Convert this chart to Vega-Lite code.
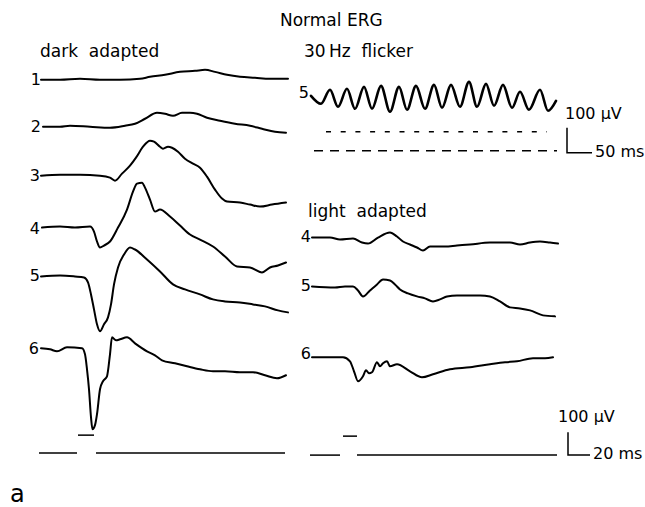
{
  "$schema": "https://vega.github.io/schema/vega-lite/v6.json",
  "width": 645,
  "height": 507,
  "padding": 0,
  "autosize": {"type": "fit", "contains": "padding"},
  "background": "white",
  "config": {"view": {"stroke": null}},
  "datasets": {
    "traces": [
      {"trace":"D1","x":41,"y":80},{"trace":"D1","x":60,"y":80},{"trace":"D1","x":80,"y":79},{"trace":"D1","x":100,"y":80},{"trace":"D1","x":120,"y":80},{"trace":"D1","x":140,"y":79},{"trace":"D1","x":150,"y":77},{"trace":"D1","x":165,"y":75},{"trace":"D1","x":180,"y":72},{"trace":"D1","x":195,"y":71},{"trace":"D1","x":205,"y":70},{"trace":"D1","x":215,"y":72},{"trace":"D1","x":227,"y":75},{"trace":"D1","x":240,"y":77},{"trace":"D1","x":255,"y":78},{"trace":"D1","x":270,"y":79},{"trace":"D1","x":288,"y":79},

      {"trace":"D2","x":43,"y":127},{"trace":"D2","x":60,"y":127},{"trace":"D2","x":70,"y":126},{"trace":"D2","x":90,"y":127},{"trace":"D2","x":110,"y":128},{"trace":"D2","x":125,"y":126},{"trace":"D2","x":135,"y":124},{"trace":"D2","x":145,"y":119},{"trace":"D2","x":157,"y":113},{"trace":"D2","x":165,"y":114},{"trace":"D2","x":173,"y":116},{"trace":"D2","x":182,"y":113},{"trace":"D2","x":190,"y":113},{"trace":"D2","x":197,"y":114},{"trace":"D2","x":207,"y":118},{"trace":"D2","x":220,"y":121},{"trace":"D2","x":235,"y":124},{"trace":"D2","x":250,"y":126},{"trace":"D2","x":262,"y":129},{"trace":"D2","x":275,"y":132},{"trace":"D2","x":286,"y":133},

      {"trace":"D3","x":41,"y":176},{"trace":"D3","x":60,"y":175},{"trace":"D3","x":80,"y":175},{"trace":"D3","x":100,"y":176},{"trace":"D3","x":110,"y":178},{"trace":"D3","x":115,"y":181},{"trace":"D3","x":122,"y":174},{"trace":"D3","x":130,"y":166},{"trace":"D3","x":136,"y":158},{"trace":"D3","x":143,"y":147},{"trace":"D3","x":150,"y":141},{"trace":"D3","x":154,"y":142},{"trace":"D3","x":160,"y":147},{"trace":"D3","x":163,"y":149},{"trace":"D3","x":168,"y":147},{"trace":"D3","x":172,"y":148},{"trace":"D3","x":178,"y":152},{"trace":"D3","x":185,"y":159},{"trace":"D3","x":193,"y":164},{"trace":"D3","x":200,"y":168},{"trace":"D3","x":207,"y":177},{"trace":"D3","x":215,"y":190},{"trace":"D3","x":222,"y":199},{"trace":"D3","x":227,"y":202},{"trace":"D3","x":240,"y":203},{"trace":"D3","x":250,"y":205},{"trace":"D3","x":260,"y":207},{"trace":"D3","x":272,"y":205},{"trace":"D3","x":286,"y":203},

      {"trace":"D4","x":42,"y":228},{"trace":"D4","x":60,"y":227},{"trace":"D4","x":75,"y":228},{"trace":"D4","x":90,"y":227},{"trace":"D4","x":94,"y":232},{"trace":"D4","x":97,"y":242},{"trace":"D4","x":100,"y":248},{"trace":"D4","x":104,"y":246},{"trace":"D4","x":110,"y":242},{"trace":"D4","x":118,"y":228},{"trace":"D4","x":127,"y":210},{"trace":"D4","x":133,"y":192},{"trace":"D4","x":137,"y":184},{"trace":"D4","x":142,"y":183},{"trace":"D4","x":145,"y":188},{"trace":"D4","x":150,"y":200},{"trace":"D4","x":155,"y":212},{"trace":"D4","x":160,"y":210},{"trace":"D4","x":170,"y":217},{"trace":"D4","x":180,"y":226},{"trace":"D4","x":190,"y":235},{"trace":"D4","x":200,"y":240},{"trace":"D4","x":213,"y":247},{"trace":"D4","x":225,"y":257},{"trace":"D4","x":237,"y":267},{"trace":"D4","x":250,"y":268},{"trace":"D4","x":262,"y":273},{"trace":"D4","x":270,"y":268},{"trace":"D4","x":278,"y":266},{"trace":"D4","x":286,"y":263},

      {"trace":"D5","x":41,"y":277},{"trace":"D5","x":60,"y":276},{"trace":"D5","x":75,"y":277},{"trace":"D5","x":84,"y":278},{"trace":"D5","x":88,"y":283},{"trace":"D5","x":91,"y":295},{"trace":"D5","x":94,"y":310},{"trace":"D5","x":97,"y":325},{"trace":"D5","x":100,"y":332},{"trace":"D5","x":104,"y":325},{"trace":"D5","x":108,"y":318},{"trace":"D5","x":111,"y":305},{"trace":"D5","x":114,"y":285},{"trace":"D5","x":118,"y":268},{"trace":"D5","x":124,"y":255},{"trace":"D5","x":130,"y":248},{"trace":"D5","x":135,"y":250},{"trace":"D5","x":147,"y":260},{"trace":"D5","x":160,"y":272},{"trace":"D5","x":173,"y":285},{"trace":"D5","x":185,"y":290},{"trace":"D5","x":200,"y":295},{"trace":"D5","x":213,"y":300},{"trace":"D5","x":225,"y":302},{"trace":"D5","x":240,"y":303},{"trace":"D5","x":253,"y":305},{"trace":"D5","x":265,"y":307},{"trace":"D5","x":278,"y":311},{"trace":"D5","x":288,"y":313},

      {"trace":"D6","x":41,"y":349},{"trace":"D6","x":50,"y":350},{"trace":"D6","x":57,"y":352},{"trace":"D6","x":67,"y":348},{"trace":"D6","x":82,"y":349},{"trace":"D6","x":85,"y":355},{"trace":"D6","x":87,"y":370},{"trace":"D6","x":89,"y":390},{"trace":"D6","x":91,"y":418},{"trace":"D6","x":92.5,"y":430},{"trace":"D6","x":95,"y":426},{"trace":"D6","x":97,"y":415},{"trace":"D6","x":100,"y":390},{"trace":"D6","x":103,"y":382},{"trace":"D6","x":107,"y":377},{"trace":"D6","x":110,"y":355},{"trace":"D6","x":112,"y":338},{"trace":"D6","x":116,"y":341},{"trace":"D6","x":120,"y":340},{"trace":"D6","x":127,"y":338},{"trace":"D6","x":135,"y":344},{"trace":"D6","x":147,"y":352},{"trace":"D6","x":155,"y":356},{"trace":"D6","x":162,"y":361},{"trace":"D6","x":175,"y":364},{"trace":"D6","x":187,"y":367},{"trace":"D6","x":200,"y":370},{"trace":"D6","x":213,"y":372},{"trace":"D6","x":225,"y":372},{"trace":"D6","x":240,"y":373},{"trace":"D6","x":253,"y":373},{"trace":"D6","x":265,"y":376},{"trace":"D6","x":277,"y":379},{"trace":"D6","x":286,"y":376},

      {"trace":"L4","x":312,"y":238},{"trace":"L4","x":330,"y":238},{"trace":"L4","x":340,"y":240},{"trace":"L4","x":353,"y":239},{"trace":"L4","x":362,"y":243},{"trace":"L4","x":368,"y":244},{"trace":"L4","x":378,"y":238},{"trace":"L4","x":390,"y":233},{"trace":"L4","x":397,"y":237},{"trace":"L4","x":403,"y":242},{"trace":"L4","x":410,"y":245},{"trace":"L4","x":417,"y":248},{"trace":"L4","x":423,"y":251},{"trace":"L4","x":430,"y":247},{"trace":"L4","x":445,"y":247},{"trace":"L4","x":457,"y":246},{"trace":"L4","x":470,"y":245},{"trace":"L4","x":490,"y":243},{"trace":"L4","x":500,"y":243},{"trace":"L4","x":510,"y":243},{"trace":"L4","x":520,"y":245},{"trace":"L4","x":530,"y":243},{"trace":"L4","x":540,"y":242},{"trace":"L4","x":550,"y":243},{"trace":"L4","x":558,"y":244},

      {"trace":"L5","x":312,"y":287},{"trace":"L5","x":335,"y":288},{"trace":"L5","x":345,"y":287},{"trace":"L5","x":353,"y":287},{"trace":"L5","x":358,"y":291},{"trace":"L5","x":363,"y":297},{"trace":"L5","x":370,"y":291},{"trace":"L5","x":377,"y":285},{"trace":"L5","x":383,"y":280},{"trace":"L5","x":390,"y":281},{"trace":"L5","x":395,"y":285},{"trace":"L5","x":400,"y":290},{"trace":"L5","x":408,"y":294},{"trace":"L5","x":417,"y":297},{"trace":"L5","x":425,"y":299},{"trace":"L5","x":433,"y":302},{"trace":"L5","x":440,"y":300},{"trace":"L5","x":447,"y":297},{"trace":"L5","x":457,"y":296},{"trace":"L5","x":467,"y":296},{"trace":"L5","x":480,"y":296},{"trace":"L5","x":490,"y":297},{"trace":"L5","x":500,"y":302},{"trace":"L5","x":510,"y":308},{"trace":"L5","x":520,"y":309},{"trace":"L5","x":530,"y":311},{"trace":"L5","x":543,"y":316},{"trace":"L5","x":555,"y":317},

      {"trace":"L6","x":312,"y":358},{"trace":"L6","x":330,"y":358},{"trace":"L6","x":343,"y":358},{"trace":"L6","x":350,"y":362},{"trace":"L6","x":354,"y":372},{"trace":"L6","x":358,"y":382},{"trace":"L6","x":363,"y":377},{"trace":"L6","x":366,"y":371},{"trace":"L6","x":369,"y":374},{"trace":"L6","x":372,"y":373},{"trace":"L6","x":377,"y":363},{"trace":"L6","x":380,"y":367},{"trace":"L6","x":383,"y":364},{"trace":"L6","x":387,"y":362},{"trace":"L6","x":390,"y":367},{"trace":"L6","x":397,"y":365},{"trace":"L6","x":410,"y":372},{"trace":"L6","x":422,"y":378},{"trace":"L6","x":433,"y":375},{"trace":"L6","x":450,"y":370},{"trace":"L6","x":470,"y":368},{"trace":"L6","x":490,"y":365},{"trace":"L6","x":505,"y":363},{"trace":"L6","x":517,"y":362},{"trace":"L6","x":533,"y":359},{"trace":"L6","x":545,"y":359},{"trace":"L6","x":553,"y":358}
    ],
    "flicker": [
      {"x":311,"y":96},{"x":321,"y":104},{"x":330,"y":90},{"x":338,"y":107},{"x":347,"y":89},{"x":355,"y":109},{"x":364,"y":87},{"x":372,"y":109},{"x":381,"y":86},{"x":390,"y":112},{"x":399,"y":87},{"x":407,"y":110},{"x":416,"y":86},{"x":425,"y":109},{"x":434,"y":85},{"x":442,"y":108},{"x":451,"y":85},{"x":460,"y":107},{"x":469,"y":82},{"x":477,"y":107},{"x":486,"y":84},{"x":494,"y":106},{"x":503,"y":85},{"x":512,"y":108},{"x":520,"y":92},{"x":529,"y":110},{"x":540,"y":90},{"x":548,"y":111},{"x":556,"y":101}
    ],
    "segments": [
      {"seg":"stimL","i":0,"x":78,"y":436},{"seg":"stimL","i":1,"x":94,"y":436},
      {"seg":"baseL1","i":0,"x":39,"y":454},{"seg":"baseL1","i":1,"x":77,"y":454},
      {"seg":"baseL2","i":0,"x":96,"y":454},{"seg":"baseL2","i":1,"x":285,"y":454},
      {"seg":"stimR","i":0,"x":343,"y":437},{"seg":"stimR","i":1,"x":357,"y":437},
      {"seg":"baseR1","i":0,"x":310,"y":456},{"seg":"baseR1","i":1,"x":340,"y":456},
      {"seg":"baseR2","i":0,"x":357,"y":456},{"seg":"baseR2","i":1,"x":557,"y":456},
      {"seg":"bar1","i":0,"x":567,"y":128},{"seg":"bar1","i":1,"x":567,"y":153},{"seg":"bar1","i":2,"x":592,"y":153},
      {"seg":"bar2","i":0,"x":568,"y":433},{"seg":"bar2","i":1,"x":568,"y":456},{"seg":"bar2","i":2,"x":590,"y":456}
    ],
    "dashes": [
      {"row":"upper","x":326,"y":132},{"row":"upper","x":547,"y":132},
      {"row":"lower","x":314,"y":151},{"row":"lower","x":557,"y":151}
    ],
    "headings": [
      {"text":"Normal ERG","x":280,"y":26},
      {"text":"dark\u00a0\u00a0adapted","x":40,"y":57},
      {"text":"30\u2009Hz\u00a0\u00a0flicker","x":304,"y":57},
      {"text":"light\u00a0\u00a0adapted","x":308,"y":217}
    ],
    "numbers": [
      {"text":"1","x":41,"y":80},{"text":"2","x":41,"y":127},{"text":"3","x":40,"y":176},
      {"text":"4","x":40,"y":229},{"text":"5","x":40,"y":277},{"text":"6","x":39,"y":350},
      {"text":"5","x":309,"y":93},{"text":"4","x":311,"y":237},{"text":"5","x":311,"y":287},{"text":"6","x":311,"y":355}
    ],
    "scaletext": [
      {"text":"100 µV","x":565,"y":114},{"text":"50 ms","x":595,"y":152},
      {"text":"100 µV","x":558,"y":418},{"text":"20 ms","x":593,"y":455}
    ],
    "panel": [{"text":"a","x":10,"y":503}]
  },
  "encoding": {
    "x": {"field":"x","type":"quantitative","scale":{"domain":[0,645],"nice":false,"zero":false},"axis":null},
    "y": {"field":"y","type":"quantitative","scale":{"domain":[0,507],"reverse":true,"nice":false,"zero":false},"axis":null}
  },
  "layer": [
    {
      "data": {"name":"traces"},
      "mark": {"type":"line","color":"black","strokeWidth":2,"interpolate":"monotone","strokeJoin":"round","strokeCap":"round"},
      "encoding": {"detail": {"field":"trace","type":"nominal"}}
    },
    {
      "data": {"name":"flicker"},
      "mark": {"type":"line","color":"black","strokeWidth":2.6,"interpolate":"monotone","strokeCap":"round"},
      "encoding": {}
    },
    {
      "data": {"name":"segments"},
      "mark": {"type":"line","color":"black","strokeWidth":1.5},
      "encoding": {"detail": {"field":"seg","type":"nominal"}, "order": {"field":"i","type":"quantitative"}}
    },
    {
      "data": {"name":"dashes"},
      "mark": {"type":"line","color":"black","strokeWidth":1.5},
      "encoding": {
        "detail": {"field":"row","type":"nominal"},
        "strokeDash": {"field":"row","type":"nominal","scale":{"domain":["upper","lower"],"range":[[5,9.7],[9,7]]},"legend":null}
      }
    },
    {
      "data": {"name":"headings"},
      "mark": {"type":"text","align":"left","baseline":"alphabetic","font":"DejaVu Sans","fontSize":17,"color":"black"},
      "encoding": {"text": {"field":"text","type":"nominal"}}
    },
    {
      "data": {"name":"numbers"},
      "mark": {"type":"text","align":"right","baseline":"middle","font":"DejaVu Sans","fontSize":16,"color":"black"},
      "encoding": {"text": {"field":"text","type":"nominal"}}
    },
    {
      "data": {"name":"scaletext"},
      "mark": {"type":"text","align":"left","baseline":"middle","font":"DejaVu Sans","fontSize":16,"color":"black"},
      "encoding": {"text": {"field":"text","type":"nominal"}}
    },
    {
      "data": {"name":"panel"},
      "mark": {"type":"text","align":"left","baseline":"alphabetic","font":"DejaVu Sans","fontSize":24,"color":"black"},
      "encoding": {"text": {"field":"text","type":"nominal"}}
    }
  ]
}
